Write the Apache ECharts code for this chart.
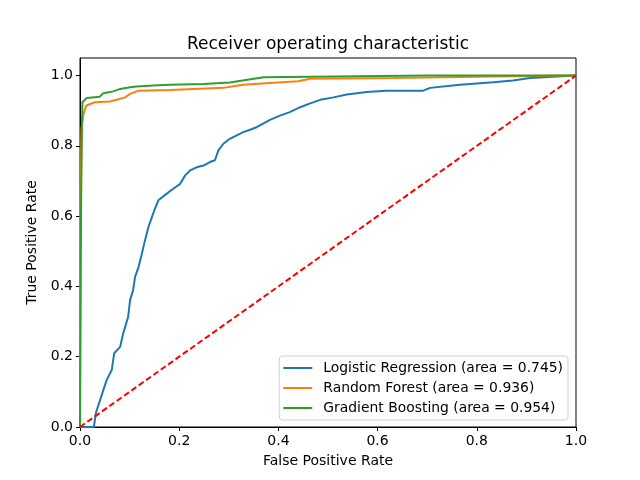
<!DOCTYPE html>
<html>
<head>
<meta charset="utf-8">
<script src="https://cdn.jsdelivr.net/npm/echarts@6/dist/echarts.min.js"></script>
<style>
  html, body { margin: 0; padding: 0; background: #fff; }
  #chart { width: 640px; height: 480px; }
</style>
</head>
<body>
<div id="chart"></div>
<script>
// ROC points
const lrFpr = [0, 0.028, 0.032, 0.047, 0.054, 0.064, 0.069, 0.081, 0.087, 0.091, 0.097, 0.101, 0.107, 0.111, 0.118, 0.124, 0.131, 0.138, 0.145, 0.151, 0.158, 0.175, 0.188, 0.202, 0.212, 0.222, 0.235, 0.249, 0.262, 0.272, 0.279, 0.289, 0.302, 0.316, 0.329, 0.343, 0.356, 0.370, 0.383, 0.403, 0.423, 0.444, 0.464, 0.484, 0.511, 0.538, 0.578, 0.618, 0.692, 0.706, 0.766, 0.833, 0.873, 0.907, 0.911, 1.0];
const lrTpr = [0, 0, 0.04, 0.105, 0.134, 0.162, 0.21, 0.228, 0.266, 0.285, 0.313, 0.361, 0.389, 0.427, 0.455, 0.489, 0.531, 0.569, 0.597, 0.621, 0.645, 0.664, 0.678, 0.692, 0.716, 0.730, 0.739, 0.744, 0.754, 0.759, 0.787, 0.806, 0.820, 0.830, 0.839, 0.846, 0.853, 0.864, 0.874, 0.886, 0.896, 0.910, 0.921, 0.931, 0.938, 0.946, 0.953, 0.957, 0.957, 0.965, 0.974, 0.981, 0.986, 0.993, 0.998, 1.0];

const rfFpr = [0, 0.001, 0.003, 0.007, 0.013, 0.030, 0.060, 0.074, 0.091, 0.101, 0.118, 0.181, 0.289, 0.329, 0.383, 0.440, 0.464, 0.632, 0.800, 1.0];
const rfTpr = [0, 0.6, 0.85, 0.891, 0.915, 0.924, 0.926, 0.931, 0.938, 0.948, 0.957, 0.959, 0.965, 0.974, 0.979, 0.984, 0.991, 0.993, 0.997, 1.0];

const gbFpr = [0, 0.002, 0.004, 0.005, 0.013, 0.040, 0.047, 0.067, 0.081, 0.101, 0.114, 0.148, 0.181, 0.249, 0.302, 0.370, 0.699, 1.0];
const gbTpr = [0, 0.6, 0.867, 0.924, 0.936, 0.940, 0.950, 0.955, 0.962, 0.967, 0.969, 0.972, 0.974, 0.976, 0.980, 0.995, 1.0, 1.0];

const diagX = [0, 1];
const diagY = [0, 1];

const names = ['Logistic Regression (area = 0.745)', 'Random Forest (area = 0.936)', 'Gradient Boosting (area = 0.954)'];
const colors = ['#1f77b4', '#ff7f0e', '#2ca02c'];
const tickVals = [0, 0.2, 0.4, 0.6, 0.8, 1.0];

function zip(xs, ys) {
  return xs.map((x, i) => [x, ys[i]]);
}

const font = 'DejaVu Sans';
const chart = echarts.init(document.getElementById('chart'));

const curves = [[lrFpr, lrTpr], [rfFpr, rfTpr], [gbFpr, gbTpr]].map((c, i) => ({
  name: names[i],
  type: 'line',
  data: zip(c[0], c[1]),
  symbol: 'none',
  animation: false,
  lineStyle: { width: 2, color: colors[i] },
  itemStyle: { color: colors[i] },
  z: 2 + i
}));

chart.setOption({
  animation: false,
  title: {
    text: 'Receiver operating characteristic',
    left: 328,
    textAlign: 'center',
    top: 36,
    padding: 0,
    textStyle: { fontFamily: font, fontSize: 17, fontWeight: 'normal', color: '#000' }
  },
  grid: {
    left: 80, right: 64, top: 58, bottom: 53,
    show: true, borderColor: '#000', borderWidth: 1
  },
  legend: {
    orient: 'vertical',
    right: 72, bottom: 60,
    data: names,
    icon: 'rect',
    itemWidth: 29, itemHeight: 2,
    itemGap: 6,
    padding: [5, 5, 5, 4],
    borderColor: '#d0d0d0', borderWidth: 1, borderRadius: 3,
    backgroundColor: 'rgba(255,255,255,0.8)',
    textStyle: { fontFamily: font, fontSize: 13.9, color: '#000', padding: [0, 0, 0, 6] }
  },
  xAxis: {
    type: 'value', min: 0, max: 1, interval: 0.2,
    name: 'False Positive Rate', nameLocation: 'middle', nameGap: 27,
    nameTextStyle: { fontFamily: font, fontSize: 14, color: '#000' },
    splitLine: { show: false },
    axisLine: { show: true, onZero: false, lineStyle: { color: '#000' } },
    axisTick: { show: true, length: 4, lineStyle: { color: '#000' } },
    axisLabel: { fontFamily: font, fontSize: 14, color: '#000', margin: 7, formatter: v => v.toFixed(1) }
  },
  yAxis: {
    type: 'value', min: 0, max: 1.05,
    name: 'True Positive Rate', nameLocation: 'middle', nameGap: 38,
    nameTextStyle: { fontFamily: font, fontSize: 14, color: '#000' },
    splitLine: { show: false },
    axisLine: { show: true, onZero: false, lineStyle: { color: '#000' } },
    axisTick: { show: true, length: 4, customValues: tickVals, lineStyle: { color: '#000' } },
    axisLabel: { fontFamily: font, fontSize: 14, color: '#000', margin: 7, customValues: tickVals, formatter: v => v.toFixed(1) }
  },
  series: curves.concat([{
    name: 'diag',
    type: 'line',
    data: zip(diagX, diagY),
    symbol: 'none',
    lineStyle: { width: 2, color: '#ff0000', type: [6, 3] },
    z: 10
  }])
});
</script>
</body>
</html>
